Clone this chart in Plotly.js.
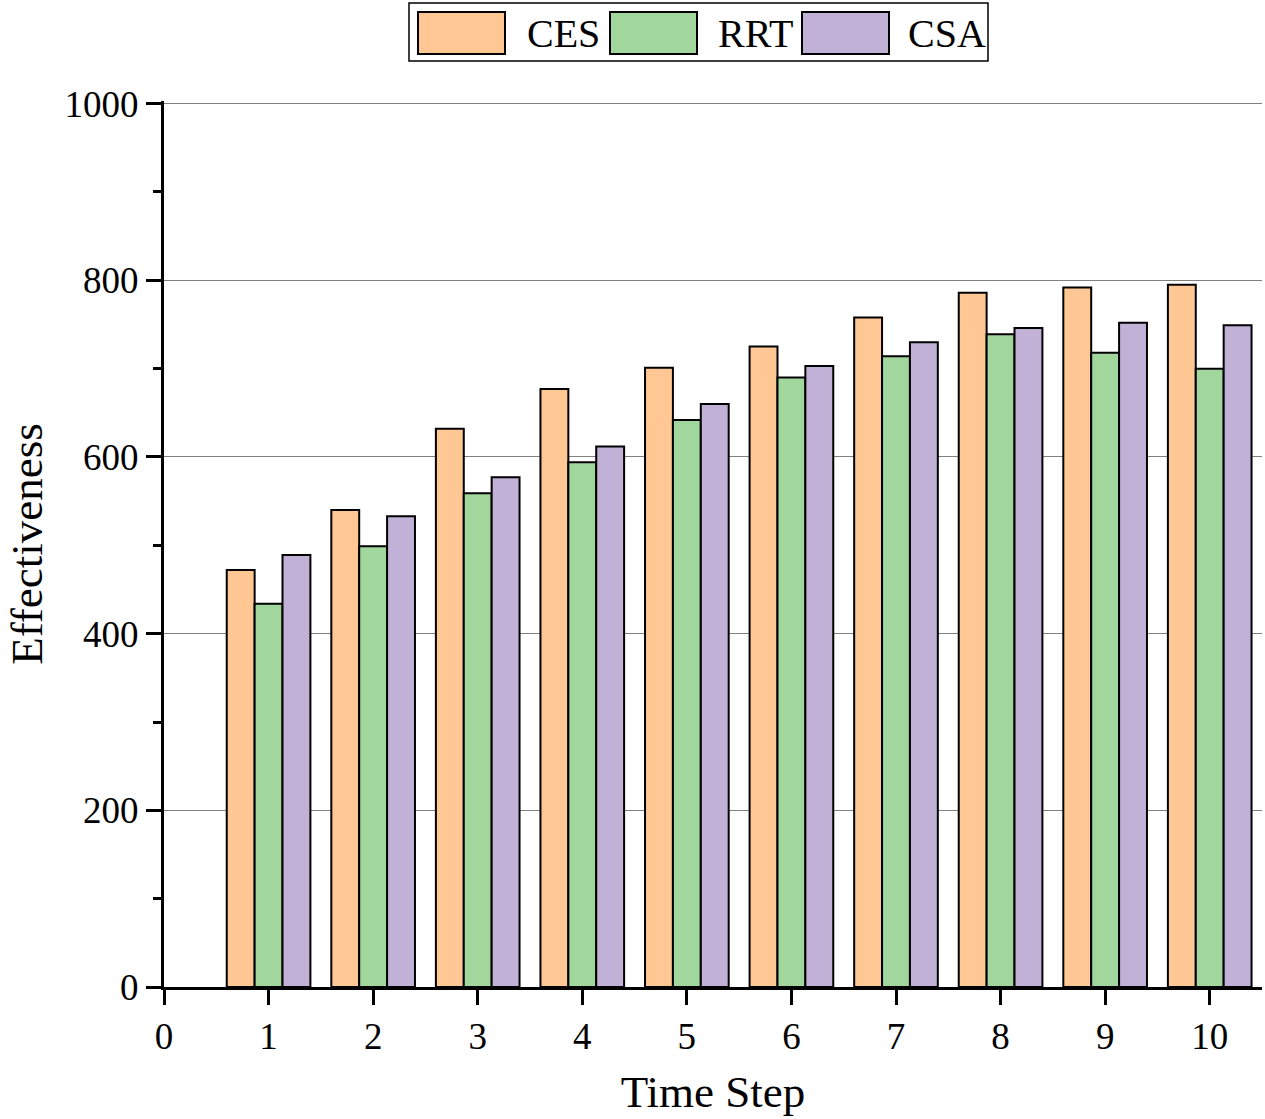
<!DOCTYPE html>
<html>
<head>
<meta charset="utf-8">
<script src="https://cdn.plot.ly/plotly-3.0.1.min.js"></script>
<style>html,body{margin:0;padding:0;background:#fff;}#chart{width:1265px;height:1119px;}</style>
</head>
<body>
<div id="chart"></div>
<script>
const timeSteps = [1, 2, 3, 4, 5, 6, 7, 8, 9, 10];
const seriesNames = ["CES", "RRT", "CSA"];
const cesValues = [472, 540, 632, 677, 701, 725, 758, 786, 792, 795];
const rrtValues = [434, 499, 559, 594, 642, 690, 714, 739, 718, 700];
const csaValues = [489, 533, 577, 612, 660, 703, 730, 746, 752, 749];
const seriesColors = ["#FEC794", "#A1D79D", "#C1B1D7"];
const xTickVals = [0, 1, 2, 3, 4, 5, 6, 7, 8, 9, 10];
const yTickVals = [0, 200, 400, 600, 800, 1000];

const FONT = "Liberation Serif, DejaVu Serif, serif";
const allValues = [cesValues, rrtValues, csaValues];

const traces = seriesNames.map((name, i) => ({
  type: "bar",
  name: name,
  x: timeSteps,
  y: allValues[i],
  marker: { color: seriesColors[i], line: { color: "#000", width: 2 } },
  showlegend: false
}));

// custom legend box (pixel -> paper conversion)
const L = 164, R = 1262, T = 101, B = 987;
const px = v => (v - L) / (R - L);
const py = v => (B - v) / (B - T);
const shapes = [{
  type: "rect", xref: "paper", yref: "paper",
  x0: px(409), x1: px(988), y0: py(61), y1: py(3),
  line: { color: "#000", width: 1.5 }, fillcolor: "#fff"
}];
const annotations = [];
const swLeft = [418, 610, 802];
seriesNames.forEach((name, i) => {
  shapes.push({
    type: "rect", xref: "paper", yref: "paper",
    x0: px(swLeft[i]), x1: px(swLeft[i] + 87), y0: py(54), y1: py(12),
    line: { color: "#000", width: 2 }, fillcolor: seriesColors[i]
  });
  annotations.push({
    xref: "paper", yref: "paper", x: px(swLeft[i] + 145), y: py(34),
    text: name, showarrow: false, xanchor: "center", yanchor: "middle",
    font: { family: FONT, size: 40, color: "#000" }
  });
});

const layout = {
  width: 1265, height: 1119,
  margin: { l: L, r: 1265 - R, t: T, b: 1119 - B },
  paper_bgcolor: "#fff", plot_bgcolor: "#fff",
  barmode: "group", bargap: 0.2, bargroupgap: 0,
  showlegend: false,
  font: { family: FONT, color: "#000" },
  xaxis: {
    range: [0, 10.5], tickmode: "array", tickvals: xTickVals,
    ticks: "outside", ticklen: 15, tickwidth: 3, tickcolor: "#000",
    showline: true, linecolor: "#000", linewidth: 3, showgrid: false, zeroline: false,
    tickfont: { family: FONT, size: 37, color: "#000" },
    title: { text: "Time Step", font: { family: FONT, size: 45, color: "#000" }, standoff: 20 }
  },
  yaxis: {
    range: [0, 1003], tickmode: "array", tickvals: yTickVals,
    ticks: "outside", ticklen: 15, tickwidth: 3, tickcolor: "#000",
    showline: true, linecolor: "#000", linewidth: 3,
    showgrid: true, gridcolor: "#808080", gridwidth: 1, zeroline: false,
    minor: { dtick: 100, tick0: 0, ticks: "outside", ticklen: 8, tickwidth: 3, tickcolor: "#000", showgrid: false },
    tickfont: { family: FONT, size: 37, color: "#000" },
    title: { text: "Effectiveness", font: { family: FONT, size: 45, color: "#000" }, standoff: 8 }
  },
  shapes: shapes,
  annotations: annotations
};

Plotly.newPlot("chart", traces, layout, { displayModeBar: false, staticPlot: true });
</script>
</body>
</html>
